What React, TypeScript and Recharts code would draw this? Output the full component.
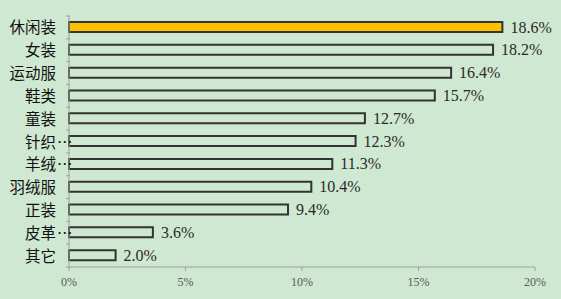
import React from "react"
import { BarChart, Bar, XAxis, YAxis, LabelList, Cell } from "recharts"

const categories = ["休闲装", "女装", "运动服", "鞋类", "童装", "针织…", "羊绒…", "羽绒服", "正装", "皮革…", "其它"]
const shares = [18.6, 18.2, 16.4, 15.7, 12.7, 12.3, 11.3, 10.4, 9.4, 3.6, 2.0]
const xTicks = [0, 5, 10, 15, 20]

const data = categories.map((name, i) => ({ name, value: shares[i] }))

const BG = "#cfe8d1"
const AXIS = "#a0a0a0"
const SERIF = "Liberation Serif"
const TOP = 16
const BOTTOM = 267
const band = (BOTTOM - TOP) / categories.length

function CategoryTick(props: any) {
  const { x, y, payload, index } = props
  const name: string = payload.value
  const cut = name.endsWith("…")
  const main = cut ? name.slice(0, -1) : name
  const ax = x + 9
  const textStyle = { fontFamily: "Noto Sans CJK SC", fontSize: 15.5, fill: "#111111" }
  return (
    <g>
      <line x1={ax - 4} x2={ax} y1={y - band / 2} y2={y - band / 2} stroke={AXIS} />
      {index === categories.length - 1 && (
        <line x1={ax - 4} x2={ax} y1={y + band / 2} y2={y + band / 2} stroke={AXIS} />
      )}
      <text x={ax - 14} y={y} dy={6} textAnchor="end" style={textStyle}>{main}</text>
      {cut && (
        <text x={ax - 13} y={y} dy={6} textAnchor="start" style={textStyle} letterSpacing={1}>…</text>
      )}
    </g>
  )
}

function ValueLabel(props: any) {
  const { x, y, width, height, value } = props
  return (
    <text x={x + width + 8} y={y + height / 2} dy={5.5} fill="#2a2a2a" fontSize={16} style={{ fontFamily: SERIF }}>
      {`${Number(value).toFixed(1)}%`}
    </text>
  )
}

function XTick(props: any) {
  const { x, y, payload } = props
  return (
    <text x={x} y={y} dy={10} textAnchor="middle" fill="#595959" fontSize={12} style={{ fontFamily: SERIF }}>
      {`${payload.value}%`}
    </text>
  )
}

export default function App() {
  return (
    <div style={{ width: 561, height: 299, background: BG, fontFamily: SERIF }}>
      <style>{`body{margin:0}`}</style>
      <BarChart
        width={561}
        height={299}
        layout="vertical"
        data={data}
        margin={{ top: TOP, right: 26, bottom: 7, left: 0 }}
        barCategoryGap={0}
      >
        <XAxis
          type="number"
          domain={[0, 20]}
          ticks={xTicks}
          stroke={AXIS}
          tickSize={4}
          height={25}
          tick={<XTick />}
          tickMargin={5}
        />
        <YAxis
          type="category"
          dataKey="name"
          width={69}
          stroke={AXIS}
          tickLine={false}
          tick={<CategoryTick />}
          interval={0}
        />
        <Bar dataKey="value" barSize={10} stroke="#333333" strokeWidth={2} isAnimationActive={false}>
          {data.map((d, i) => (
            <Cell key={d.name} fill={i === 0 ? "#ffc000" : BG} />
          ))}
          <LabelList dataKey="value" content={<ValueLabel />} />
        </Bar>
      </BarChart>
    </div>
  )
}
